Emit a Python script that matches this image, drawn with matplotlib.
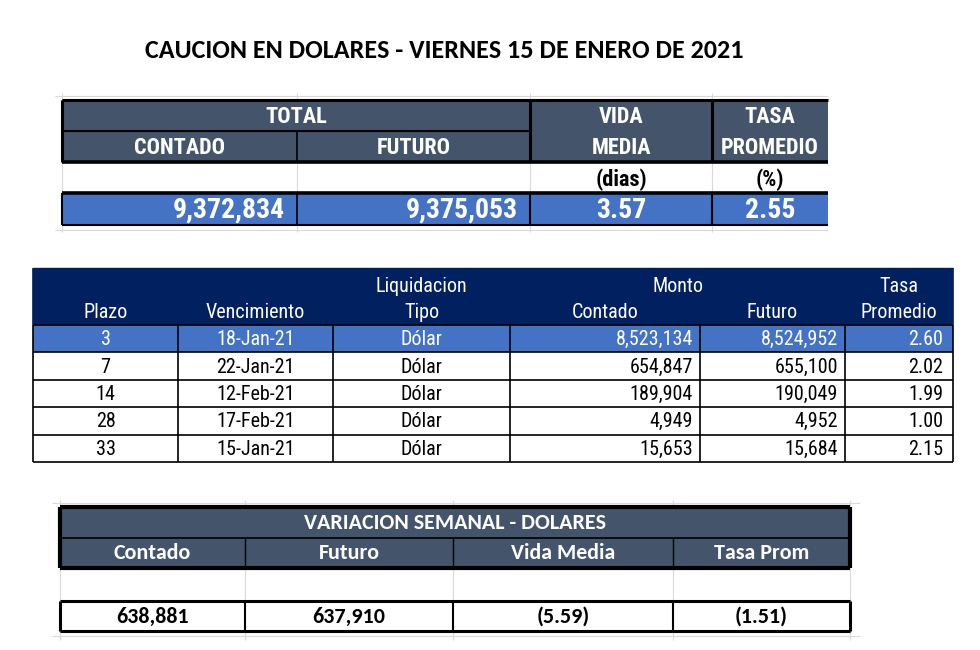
import matplotlib
matplotlib.use("Agg")
import matplotlib.pyplot as plt
from matplotlib.patches import Rectangle
from matplotlib import font_manager

# datos
titulo = "CAUCION EN DOLARES - VIERNES 15 DE ENERO DE 2021"

total_contado = 9372834
total_futuro = 9375053
vida_media = 3.57
tasa_promedio = 2.55

plazo = [3, 7, 14, 28, 33]
vencimiento = ["18-Jan-21", "22-Jan-21", "12-Feb-21", "17-Feb-21", "15-Jan-21"]
tipo = ["Dólar", "Dólar", "Dólar", "Dólar", "Dólar"]
monto_contado = [8523134, 654847, 189904, 4949, 15653]
monto_futuro = [8524952, 655100, 190049, 4952, 15684]
tasa = [2.60, 2.02, 1.99, 1.00, 2.15]

var_contado = 638881
var_futuro = 637910
var_vida_media = -5.59
var_tasa = -1.51

# fuentes (Arial Narrow / Calibri si hay equivalentes)
ttf = font_manager.fontManager.ttflist


def pick(candidates, bold=False):
    for name in candidates:
        for f in ttf:
            w = f.weight if isinstance(f.weight, int) else 400
            if f.name == name and f.style == "normal" and ((w >= 700) if bold else (w == 400)):
                return [name, "DejaVu Sans"]
    return ["DejaVu Sans"]


NARROW = pick(["Liberation Sans Narrow", "Roboto Condensed", "Archivo Narrow", "IBM Plex Sans Condensed"])
NARROW_B = pick(["Liberation Sans Narrow", "Roboto Condensed", "IBM Plex Sans Condensed", "Fira Sans Condensed"], bold=True)
CALIBRI = pick(["Carlito", "Lato"], bold=True)

SLATE = "#44546A"
NAVY = "#002060"
BLUE = "#4472C4"
GRID = "#d9d9d9"


def fmt_num(v):
    return f"{v:,}"


def fmt_var(v):
    if v < 0:
        return f"({abs(v):.2f})"
    return f"{v:.2f}"


fig = plt.figure(figsize=(9.8, 6.5), dpi=100)
ax = fig.add_axes([0, 0, 1, 1])
ax.set_xlim(0, 980)
ax.set_ylim(650, 0)
ax.axis("off")


def cell(x0, x1, y0, y1, color):
    ax.add_patch(Rectangle((x0, y0), x1 - x0, y1 - y0, facecolor=color, edgecolor="none", zorder=1))


def hline(y, x0, x1, lw=1.0, color="black", z=3):
    ax.plot([x0, x1], [y, y], color=color, lw=lw, zorder=z, solid_capstyle="butt")


def vline(x, y0, y1, lw=1.0, color="black", z=3):
    ax.plot([x, x], [y0, y1], color=color, lw=lw, zorder=z, solid_capstyle="butt")


def txt(x, y, s, size, color="black", ha="center", weight="normal", family=None):
    if family is None:
        family = NARROW_B if weight == "bold" else NARROW
    ax.text(x, y, s, fontsize=size, color=color, ha=ha, va="center",
            fontweight=weight, family=family, zorder=5)


# titulo
txt(444, 50, titulo, 18.8, weight="bold", family=CALIBRI)

# ---------------- tabla 1 ----------------
c1 = [62, 297, 530, 712, 828]
r1 = [100, 131, 162, 193, 225]

# lineas de grilla de excel
for x in c1[:-1]:
    vline(x, 93, 232, lw=0.8, color=GRID, z=0)
for y in [96, 230]:
    hline(y, 55, 828, lw=0.8, color=GRID, z=0)

cell(c1[0], c1[-1], r1[0], r1[2], SLATE)
cell(c1[0], c1[-1], r1[3], r1[4], BLUE)

hline(r1[0], c1[0], c1[-1], lw=2.2)
hline(r1[1], c1[0], c1[2], lw=1.5)
hline(r1[2], c1[0], c1[-1], lw=2.6)
hline(r1[3], c1[0], c1[-1], lw=2.6)
hline(r1[4], c1[0], c1[-1], lw=1.5)
vline(c1[0], r1[0], r1[2], lw=2.2)
vline(c1[0], r1[3], r1[4], lw=1.5)
vline(c1[1], r1[1], r1[2], lw=1.2)
vline(c1[1], r1[3], r1[4], lw=1.2)
for x in c1[2:4]:
    vline(x, r1[0], r1[2], lw=2.2)
    vline(x, r1[3], r1[4], lw=1.5)

fs1 = 16
txt((c1[0] + c1[2]) / 2, 117, "TOTAL", fs1, "white", weight="bold")
txt((c1[0] + c1[1]) / 2, 148, "CONTADO", fs1, "white", weight="bold")
txt((c1[1] + c1[2]) / 2, 148, "FUTURO", fs1, "white", weight="bold")
txt((c1[2] + c1[3]) / 2, 117, "VIDA", fs1, "white", weight="bold")
txt((c1[2] + c1[3]) / 2, 148, "MEDIA", fs1, "white", weight="bold")
txt((c1[3] + c1[4]) / 2, 117, "TASA", fs1, "white", weight="bold")
txt((c1[3] + c1[4]) / 2, 148, "PROMEDIO", fs1, "white", weight="bold")
txt((c1[2] + c1[3]) / 2, 180, "(dias)", fs1, weight="bold")
txt((c1[3] + c1[4]) / 2, 180, "(%)", fs1, weight="bold")

fv = 20
txt(c1[1] - 12, 210, fmt_num(total_contado), fv, "white", ha="right", weight="bold")
txt(c1[2] - 12, 210, fmt_num(total_futuro), fv, "white", ha="right", weight="bold")
txt((c1[2] + c1[3]) / 2, 210, f"{vida_media:.2f}", fv, "white", weight="bold")
txt((c1[3] + c1[4]) / 2, 210, f"{tasa_promedio:.2f}", fv, "white", weight="bold")

# ---------------- tabla 2 ----------------
c2 = [33, 178, 333, 510, 700, 845, 953]
top2 = 268
head2 = 325
rh = 27.4

cell(c2[0], c2[-1], top2, head2, NAVY)
rows_y = [head2 + i * rh for i in range(len(plazo) + 1)]
cell(c2[0], c2[-1], rows_y[0], rows_y[1], BLUE)

hline(top2, c2[0], c2[-1], lw=1.0, color=NAVY)
for y in rows_y:
    hline(y, c2[0], c2[-1], lw=1.2)
for x in c2:
    vline(x, head2, rows_y[-1], lw=1.2)
vline(c2[0], top2, head2, lw=1.2, color=NAVY)
vline(c2[-1], top2, head2, lw=1.2, color=NAVY)

fs2 = 14.5
ya, yb = 286, 313
txt((c2[2] + c2[3]) / 2, ya, "Liquidacion", fs2, "white")
txt((c2[3] + c2[5]) / 2, ya, "Monto", fs2, "white")
txt((c2[5] + c2[6]) / 2, ya, "Tasa", fs2, "white")
for i, lab in enumerate(["Plazo", "Vencimiento", "Tipo", "Contado", "Futuro", "Promedio"]):
    txt((c2[i] + c2[i + 1]) / 2, yb, lab, fs2, "white")

for i in range(len(plazo)):
    yc = (rows_y[i] + rows_y[i + 1]) / 2 + 1
    col = "white" if i == 0 else "black"
    txt((c2[0] + c2[1]) / 2, yc, str(plazo[i]), fs2, col)
    txt((c2[1] + c2[2]) / 2, yc, vencimiento[i], fs2, col)
    txt((c2[2] + c2[3]) / 2, yc, tipo[i], fs2, col)
    txt(c2[4] - 7, yc, fmt_num(monto_contado[i]), fs2, col, ha="right")
    txt(c2[5] - 7, yc, fmt_num(monto_futuro[i]), fs2, col, ha="right")
    txt(c2[6] - 10, yc, f"{tasa[i]:.2f}", fs2, col, ha="right")

# ---------------- tabla 3 ----------------
c3 = [60, 245, 453, 673, 850]
r3 = [507, 538, 568, 601, 631]

for x in c3:
    vline(x, 500, 640, lw=0.8, color=GRID, z=0)
for y in [503, 636]:
    hline(y, 52, 860, lw=0.8, color=GRID, z=0)

cell(c3[0], c3[-1], r3[0], r3[2], SLATE)
cell(c3[0], c3[-1], r3[3], r3[4], "white")

hline(r3[0], c3[0], c3[-1], lw=3.0)
hline(r3[1], c3[0], c3[-1], lw=1.2)
hline(r3[2], c3[0], c3[-1], lw=3.0)
vline(c3[0], r3[0], r3[2], lw=3.0)
vline(c3[-1], r3[0], r3[2], lw=3.0)
for x in c3[1:-1]:
    vline(x, r3[1], r3[2], lw=1.0)

hline(r3[3], c3[0], c3[-1], lw=2.2)
hline(r3[4], c3[0], c3[-1], lw=2.2)
for x in c3:
    lw = 2.2 if x in (c3[0], c3[-1]) else 1.5
    vline(x, r3[3], r3[4], lw=lw)

fs3 = 15.8
txt((c3[0] + c3[-1]) / 2, 523, "VARIACION SEMANAL - DOLARES", fs3, "white", weight="bold", family=CALIBRI)
for i, lab in enumerate(["Contado", "Futuro", "Vida Media", "Tasa Prom"]):
    txt((c3[i] + c3[i + 1]) / 2, 553, lab, fs3, "white", weight="bold", family=CALIBRI)

vals3 = [fmt_num(var_contado), fmt_num(var_futuro), fmt_var(var_vida_media), fmt_var(var_tasa)]
for i, v in enumerate(vals3):
    txt((c3[i] + c3[i + 1]) / 2, 617, v, fs3, weight="bold", family=CALIBRI)

fig.savefig("out.png", dpi=100, facecolor="white")
